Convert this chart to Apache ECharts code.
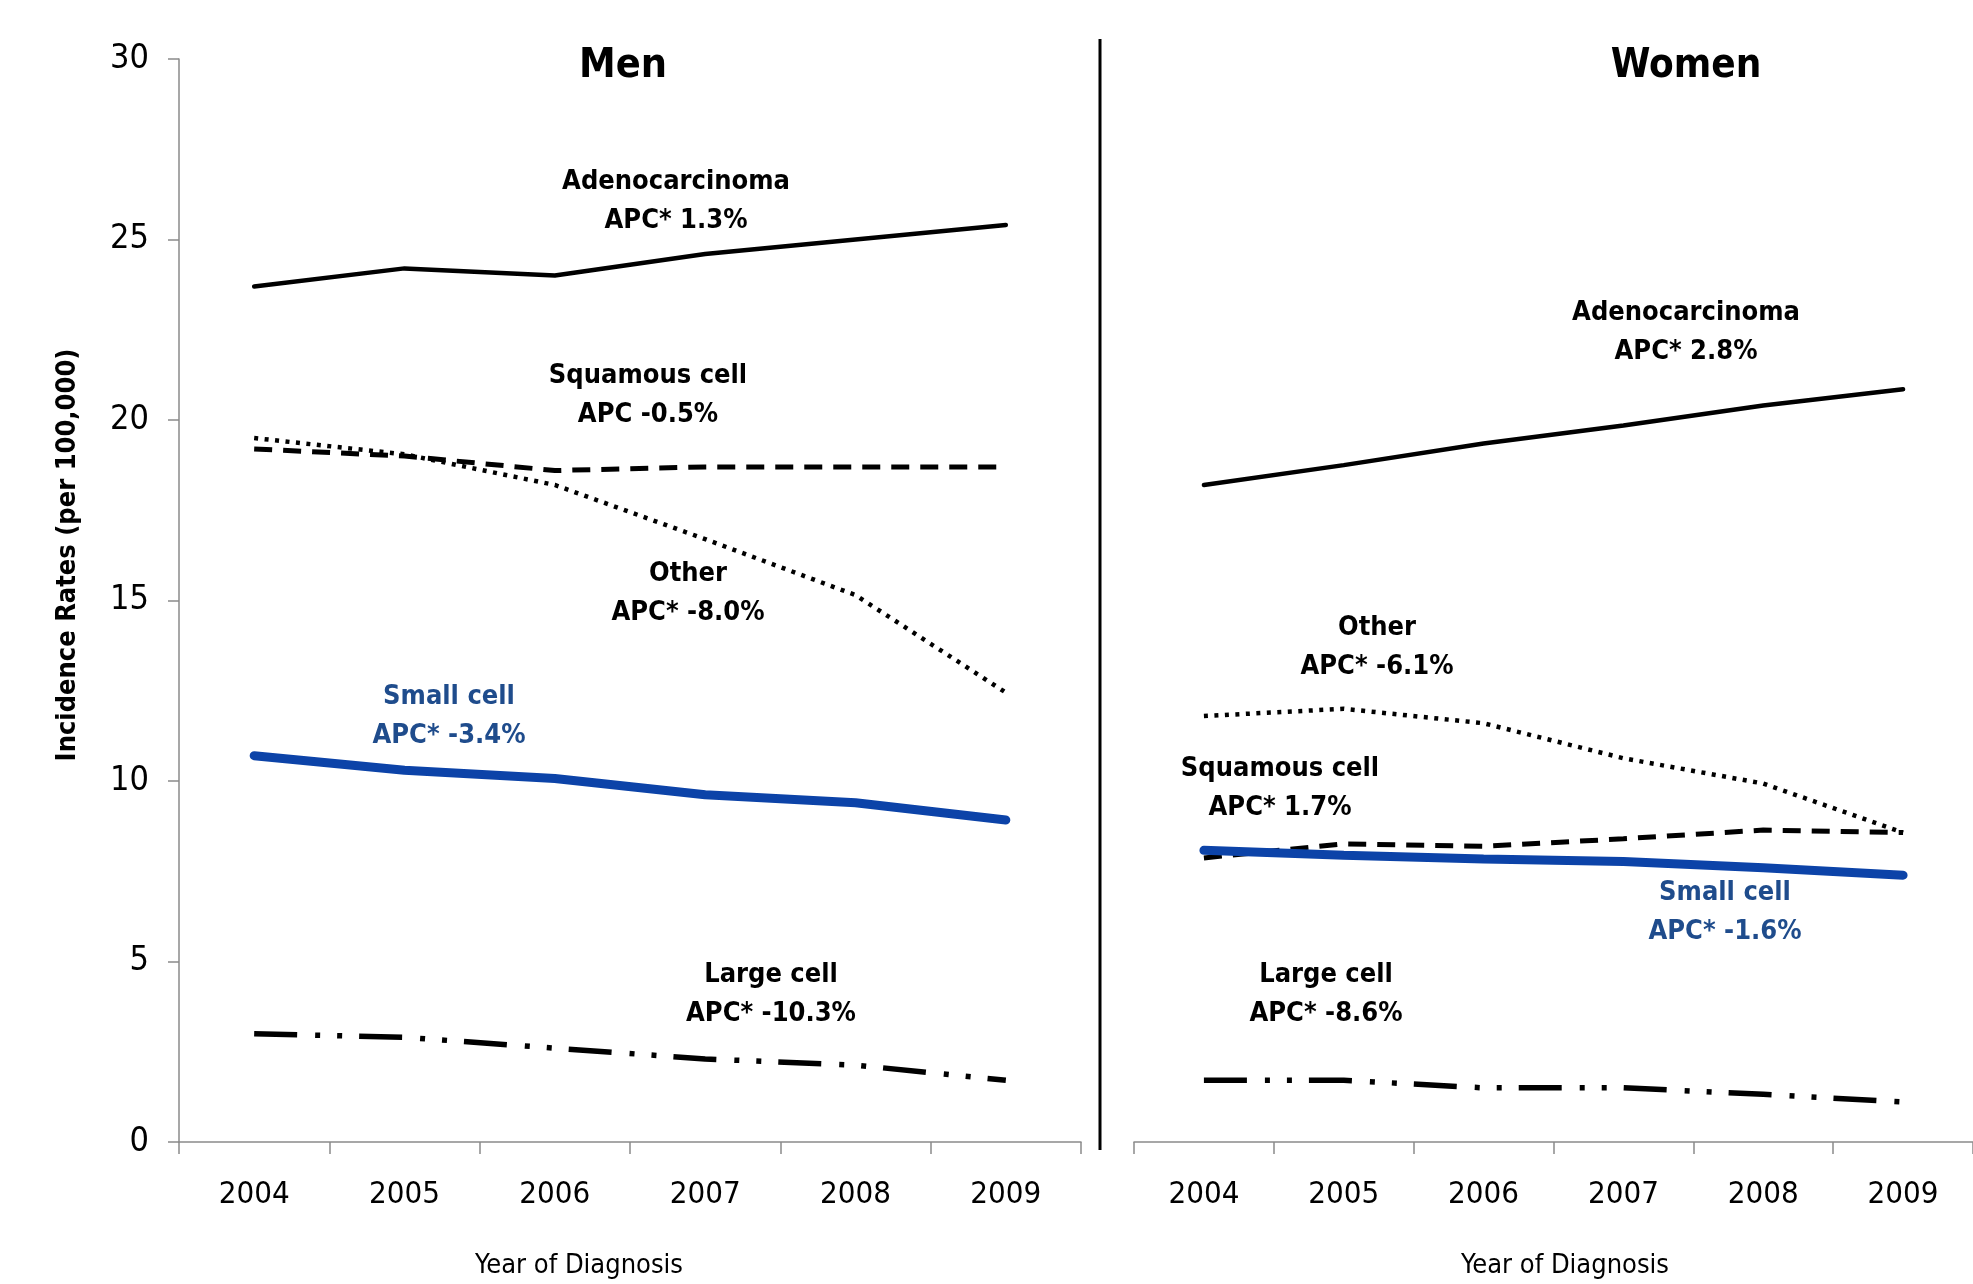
<!DOCTYPE html>
<html>
<head>
<meta charset="utf-8">
<script src="https://cdn.jsdelivr.net/npm/echarts@6/dist/echarts.min.js"></script>
<style>
  html, body { margin: 0; padding: 0; background: #fff; }
  #chart { width: 1973px; height: 1284px; }
</style>
</head>
<body>
<div id="chart"></div>
<script>
const years = ["2004", "2005", "2006", "2007", "2008", "2009"];
const yTicks = [0, 5, 10, 15, 20, 25, 30];

// men (per 100,000)
const menAdeno = [23.7, 24.2, 24.0, 24.6, 25.0, 25.4];
const menSquamous = [19.2, 19.0, 18.6, 18.7, 18.7, 18.7];
const menOther = [19.5, 19.05, 18.2, 16.7, 15.15, 12.45];
const menSmall = [10.7, 10.3, 10.07, 9.62, 9.4, 8.92];
const menLarge = [3.0, 2.9, 2.6, 2.3, 2.13, 1.71];

// women (per 100,000)
const womenAdeno = [18.2, 18.75, 19.35, 19.85, 20.4, 20.85];
const womenSquamous = [7.87, 8.26, 8.19, 8.4, 8.64, 8.57];
const womenOther = [11.8, 12.0, 11.6, 10.63, 9.93, 8.57];
const womenSmall = [8.08, 7.94, 7.84, 7.77, 7.6, 7.39];
const womenLarge = [1.71, 1.71, 1.5, 1.5, 1.32, 1.11];

const menNotes = [
  ["Adenocarcinoma", "APC* 1.3%"],
  ["Squamous cell", "APC -0.5%"],
  ["Other", "APC* -8.0%"],
  ["Small cell", "APC* -3.4%"],
  ["Large cell", "APC* -10.3%"],
];
const womenNotes = [
  ["Adenocarcinoma", "APC* 2.8%"],
  ["Other", "APC* -6.1%"],
  ["Squamous cell", "APC* 1.7%"],
  ["Small cell", "APC* -1.6%"],
  ["Large cell", "APC* -8.6%"],
];

const FONT = '"Liberation Sans Narrow", "DejaVu Sans Condensed", "Noto Sans", sans-serif';
const BLUE_LINE = "#0c43a8";
const BLUE_TEXT = "#1f4c8c";
const AXIS_GRAY = "#8a8a8a";

const chart = echarts.init(document.getElementById("chart"));

const styles = {
  adeno: { color: "#000", width: 4.5, type: "solid" },
  squamous: { color: "#000", width: 5, type: [18, 11] },
  other: { color: "#000", width: 4.5, type: [4, 6.5] },
  small: { color: BLUE_LINE, width: 9, type: "solid" },
  large: { color: "#000", width: 5.5, type: [43, 18, 5, 17, 5, 17] },
};

const makeSeries = (name, data, key, idx) => ({
  name: name,
  type: "line",
  xAxisIndex: idx,
  yAxisIndex: idx,
  data: data,
  showSymbol: false,
  smooth: false,
  animation: false,
  silent: true,
  lineStyle: { color: styles[key].color, width: styles[key].width, type: styles[key].type, cap: key === "small" || key === "adeno" ? "round" : "butt" },
});

const xAxisBase = (idx) => ({
  type: "category",
  gridIndex: idx,
  data: years,
  boundaryGap: true,
  axisLine: { show: true, lineStyle: { color: AXIS_GRAY, width: 1.5 } },
  axisTick: { show: true, length: 12, lineStyle: { color: AXIS_GRAY, width: 1.5 } },
  axisLabel: { margin: 37, fontFamily: FONT, fontSize: 31, color: "#000" },
  splitLine: { show: false },
});

const yAxisBase = (idx, visible) => ({
  type: "value",
  gridIndex: idx,
  min: yTicks[0],
  max: yTicks[yTicks.length - 1],
  interval: 5,
  show: visible,
  axisLine: { show: true, lineStyle: { color: AXIS_GRAY, width: 1.5 } },
  axisTick: { show: true, length: 11, lineStyle: { color: AXIS_GRAY, width: 1.5 } },
  axisLabel: { margin: 30, fontFamily: FONT, fontSize: 34, color: "#000" },
  splitLine: { show: false },
});

const note = (x, y, lines, color) => lines.map((t, i) => ({
  type: "text",
  x: x,
  y: y + i * 39,
  silent: true,
  style: {
    text: t,
    fill: color || "#000",
    font: "bold 27px " + FONT,
    textAlign: "center",
    textVerticalAlign: "middle",
  },
}));

const headText = (x, y, t, size, weight, rotation) => ({
  type: "text",
  x: x,
  y: y,
  rotation: rotation || 0,
  silent: true,
  style: {
    text: t,
    fill: "#000",
    font: weight + " " + size + "px " + FONT,
    textAlign: "center",
    textVerticalAlign: "middle",
  },
});

chart.setOption({
  backgroundColor: "#fff",
  animation: false,
  grid: [
    { left: 179, top: 59, width: 902, height: 1083 },
    { left: 1134, top: 59, width: 869, height: 1083 },
  ],
  xAxis: [xAxisBase(0), xAxisBase(1)],
  yAxis: [yAxisBase(0, true), yAxisBase(1, false)],
  series: [
    makeSeries("Adenocarcinoma", menAdeno, "adeno", 0),
    makeSeries("Squamous cell", menSquamous, "squamous", 0),
    makeSeries("Other", menOther, "other", 0),
    makeSeries("Large cell", menLarge, "large", 0),
    makeSeries("Small cell", menSmall, "small", 0),
    makeSeries("Adenocarcinoma", womenAdeno, "adeno", 1),
    makeSeries("Squamous cell", womenSquamous, "squamous", 1),
    makeSeries("Other", womenOther, "other", 1),
    makeSeries("Large cell", womenLarge, "large", 1),
    makeSeries("Small cell", womenSmall, "small", 1),
  ],
  graphic: [
    // divider between the two panels
    { type: "line", silent: true, shape: { x1: 1100, y1: 39, x2: 1100, y2: 1150 }, style: { stroke: "#000", lineWidth: 3 } },
    headText(623, 66, "Men", 41, "bold"),
    headText(1686, 67, "Women", 40, "bold"),
    headText(68, 555, "Incidence Rates (per 100,000)", 27, "bold", Math.PI / 2),
    headText(579, 1266, "Year of Diagnosis", 27, "normal"),
    headText(1565, 1266, "Year of Diagnosis", 27, "normal"),
    ...note(676, 182, menNotes[0]),
    ...note(648, 376, menNotes[1]),
    ...note(688, 574, menNotes[2]),
    ...note(449, 697, menNotes[3], BLUE_TEXT),
    ...note(771, 975, menNotes[4]),
    ...note(1686, 313, womenNotes[0]),
    ...note(1377, 628, womenNotes[1]),
    ...note(1280, 769, womenNotes[2]),
    ...note(1725, 893, womenNotes[3], BLUE_TEXT),
    ...note(1326, 975, womenNotes[4]),
  ],
});
</script>
</body>
</html>
